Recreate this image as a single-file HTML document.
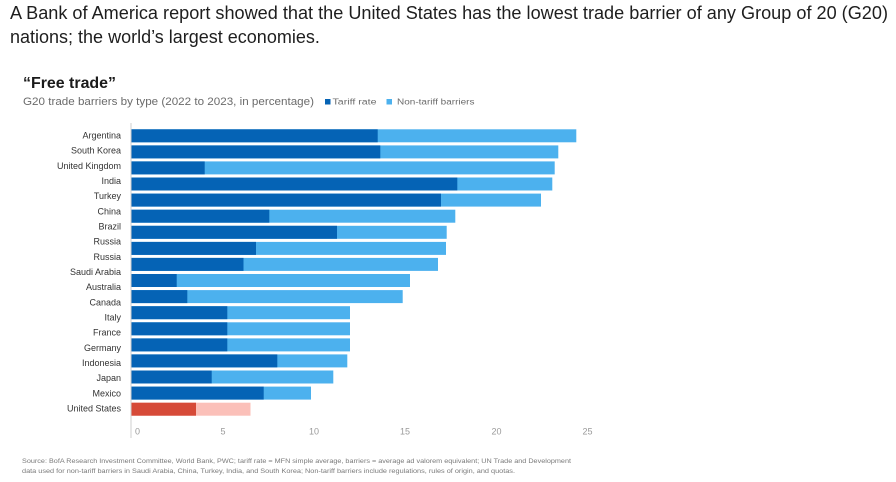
<!DOCTYPE html>
<html>
<head>
<meta charset="utf-8">
<style>
  html,body{margin:0;padding:0;background:#fff;}
  body{width:896px;height:482px;overflow:hidden;}
  svg{display:block;}
  text{font-family:"Liberation Sans", Arial, sans-serif;}
</style>
</head>
<body>
<svg width="896" height="482" viewBox="0 0 896 482" xmlns="http://www.w3.org/2000/svg">
  <!-- Header paragraph -->
  <text x="10" y="19" font-size="18" fill="#1e1e1e" textLength="878" lengthAdjust="spacingAndGlyphs">A Bank of America report showed that the United States has the lowest trade barrier of any Group of 20 (G20)</text>
  <text x="10" y="43" font-size="18" fill="#1e1e1e">nations; the world’s largest economies.</text>

  <!-- Chart title -->
  <text x="23" y="88" font-size="16" font-weight="bold" fill="#1a1a1a" textLength="93" lengthAdjust="spacingAndGlyphs">“Free trade”</text>
  <text x="23" y="105" font-size="11" fill="#6b6b6b" textLength="291" lengthAdjust="spacingAndGlyphs">G20 trade barriers by type (2022 to 2023, in percentage)</text>

  <!-- Legend -->
  <rect x="325" y="99" width="5.5" height="5.5" fill="#0563b5"/>
  <text x="332.5" y="104.5" font-size="8" fill="#6b6b6b" textLength="44" lengthAdjust="spacingAndGlyphs">Tariff rate</text>
  <rect x="386.5" y="99" width="5.5" height="5.5" fill="#4cb1ee"/>
  <text x="397" y="104.5" font-size="8" fill="#6b6b6b" textLength="77.5" lengthAdjust="spacingAndGlyphs">Non-tariff barriers</text>

  <!-- Axis line -->
  <line x1="131" y1="123" x2="131" y2="438" stroke="#cfcfcf" stroke-width="1"/>

  <!-- Country labels (19 labels) -->
  <g font-size="9" fill="#333" text-anchor="end">
    <text x="121" y="138.5">Argentina</text>
    <text x="121" y="153.7">South Korea</text>
    <text x="121" y="168.8">United Kingdom</text>
    <text x="121" y="184">India</text>
    <text x="121" y="199.2">Turkey</text>
    <text x="121" y="214.4">China</text>
    <text x="121" y="229.5">Brazil</text>
    <text x="121" y="244.7">Russia</text>
    <text x="121" y="259.9">Russia</text>
    <text x="121" y="275">Saudi Arabia</text>
    <text x="121" y="290.2">Australia</text>
    <text x="121" y="305.4">Canada</text>
    <text x="121" y="320.5">Italy</text>
    <text x="121" y="335.7">France</text>
    <text x="121" y="350.9">Germany</text>
    <text x="121" y="366">Indonesia</text>
    <text x="121" y="381.2">Japan</text>
    <text x="121" y="396.4">Mexico</text>
    <text x="121" y="411.5">United States</text>
  </g>

  <!-- Bars (18 bars, 16px spacing) -->
  <g>
    <!-- 1 -->
    <rect x="131.5" y="129.3" width="444.8" height="13" fill="#4cb1ee"/>
    <rect x="131.5" y="129.3" width="246.2" height="13" fill="#0563b5"/>
    <!-- 2 -->
    <rect x="131.5" y="145.4" width="426.8" height="13" fill="#4cb1ee"/>
    <rect x="131.5" y="145.4" width="248.8" height="13" fill="#0563b5"/>
    <!-- 3 -->
    <rect x="131.5" y="161.4" width="423.2" height="13" fill="#4cb1ee"/>
    <rect x="131.5" y="161.4" width="73.2" height="13" fill="#0563b5"/>
    <!-- 4 -->
    <rect x="131.5" y="177.5" width="420.8" height="13" fill="#4cb1ee"/>
    <rect x="131.5" y="177.5" width="325.8" height="13" fill="#0563b5"/>
    <!-- 5 -->
    <rect x="131.5" y="193.6" width="409.5" height="13" fill="#4cb1ee"/>
    <rect x="131.5" y="193.6" width="309.5" height="13" fill="#0563b5"/>
    <!-- 6 -->
    <rect x="131.5" y="209.7" width="323.8" height="13" fill="#4cb1ee"/>
    <rect x="131.5" y="209.7" width="137.8" height="13" fill="#0563b5"/>
    <!-- 7 -->
    <rect x="131.5" y="225.8" width="315.2" height="13" fill="#4cb1ee"/>
    <rect x="131.5" y="225.8" width="205.5" height="13" fill="#0563b5"/>
    <!-- 8 -->
    <rect x="131.5" y="241.9" width="314.5" height="13" fill="#4cb1ee"/>
    <rect x="131.5" y="241.9" width="124.5" height="13" fill="#0563b5"/>
    <!-- 9 -->
    <rect x="131.5" y="257.9" width="306.5" height="13" fill="#4cb1ee"/>
    <rect x="131.5" y="257.9" width="112" height="13" fill="#0563b5"/>
    <!-- 10 -->
    <rect x="131.5" y="274" width="278.5" height="13" fill="#4cb1ee"/>
    <rect x="131.5" y="274" width="45.2" height="13" fill="#0563b5"/>
    <!-- 11 -->
    <rect x="131.5" y="290.1" width="271.2" height="13" fill="#4cb1ee"/>
    <rect x="131.5" y="290.1" width="55.8" height="13" fill="#0563b5"/>
    <!-- 12 -->
    <rect x="131.5" y="306.2" width="218.5" height="13" fill="#4cb1ee"/>
    <rect x="131.5" y="306.2" width="95.8" height="13" fill="#0563b5"/>
    <!-- 13 -->
    <rect x="131.5" y="322.3" width="218.5" height="13" fill="#4cb1ee"/>
    <rect x="131.5" y="322.3" width="95.8" height="13" fill="#0563b5"/>
    <!-- 14 -->
    <rect x="131.5" y="338.4" width="218.5" height="13" fill="#4cb1ee"/>
    <rect x="131.5" y="338.4" width="95.8" height="13" fill="#0563b5"/>
    <!-- 15 -->
    <rect x="131.5" y="354.4" width="215.8" height="13" fill="#4cb1ee"/>
    <rect x="131.5" y="354.4" width="145.8" height="13" fill="#0563b5"/>
    <!-- 16 -->
    <rect x="131.5" y="370.5" width="201.8" height="13" fill="#4cb1ee"/>
    <rect x="131.5" y="370.5" width="80.2" height="13" fill="#0563b5"/>
    <!-- 17 -->
    <rect x="131.5" y="386.6" width="179.5" height="13" fill="#4cb1ee"/>
    <rect x="131.5" y="386.6" width="132.2" height="13" fill="#0563b5"/>
    <!-- 18 US -->
    <rect x="131.5" y="402.7" width="119" height="13" fill="#fbc0b9"/>
    <rect x="131.5" y="402.7" width="64.5" height="13" fill="#d64a38"/>
  </g>

  <!-- X tick labels -->
  <g font-size="9" fill="#9a9a9a" text-anchor="middle">
    <text x="137.5" y="434.5">0</text>
    <text x="223" y="434.5">5</text>
    <text x="314" y="434.5">10</text>
    <text x="405" y="434.5">15</text>
    <text x="496.5" y="434.5">20</text>
    <text x="587.5" y="434.5">25</text>
  </g>

  <!-- Source -->
  <text x="22" y="463" font-size="6.5" fill="#7a7a7a" textLength="549" lengthAdjust="spacingAndGlyphs">Source: BofA Research Investment Committee, World Bank, PWC; tariff rate = MFN simple average, barriers = average ad valorem equivalent; UN Trade and Development</text>
  <text x="22" y="473" font-size="6.5" fill="#7a7a7a" textLength="493" lengthAdjust="spacingAndGlyphs">data used for non-tariff barriers in Saudi Arabia, China, Turkey, India, and South Korea; Non-tariff barriers include regulations, rules of origin, and quotas.</text>
</svg>
</body>
</html>
